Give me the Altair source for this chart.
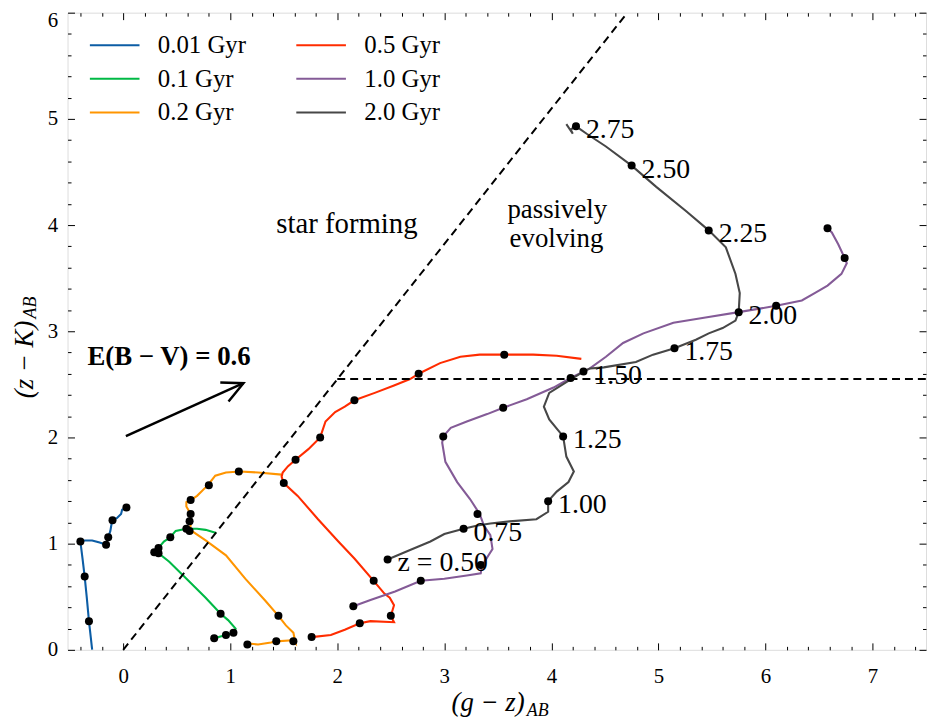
import altair as alt
import pandas as pd

# ---------------- data ----------------
ages = ["0.01 Gyr", "0.1 Gyr", "0.2 Gyr", "0.5 Gyr", "1.0 Gyr", "2.0 Gyr"]
age_colors = ["#0C5DA5", "#00B945", "#FF9500", "#FF2C00", "#845B97", "#474747"]

b_x = [-0.29, -0.31, -0.32, -0.34, -0.36, -0.38, -0.40, -0.36, -0.29, -0.22, -0.16, -0.15, -0.14, -0.12, -0.11, -0.10, -0.06, -0.02, -0.01, 0.03]
b_y = [0.00, 0.18, 0.27, 0.49, 0.69, 0.86, 1.02, 1.03, 1.03, 1.01, 0.99, 1.02, 1.06, 1.12, 1.18, 1.22, 1.24, 1.28, 1.32, 1.34]
bd_x = [-0.32, -0.36, -0.40, -0.16, -0.14, -0.10, 0.03]
bd_y = [0.27, 0.69, 1.02, 0.99, 1.06, 1.22, 1.34]

g_x = [0.85, 0.96, 1.03, 1.05, 0.98, 0.91, 0.77, 0.61, 0.43, 0.33, 0.29, 0.33, 0.38, 0.44, 0.49, 0.59, 0.69, 0.77, 0.87]
g_y = [0.11, 0.14, 0.16, 0.20, 0.28, 0.34, 0.49, 0.65, 0.83, 0.91, 0.92, 0.96, 1.02, 1.06, 1.12, 1.14, 1.14, 1.13, 1.10]
gd_x = [0.85, 0.96, 1.03, 0.91, 0.33, 0.29, 0.33, 0.44, 0.59]
gd_y = [0.11, 0.14, 0.16, 0.34, 0.91, 0.92, 0.96, 1.06, 1.14]

o_x = [1.17, 1.26, 1.38, 1.43, 1.58, 1.61, 1.59, 1.52, 1.45, 1.33, 1.14, 0.96, 0.77, 0.64, 0.62, 0.63, 0.62, 0.63, 0.59, 0.59, 0.63, 0.69, 0.77, 0.79, 0.86, 0.96, 1.09, 1.26, 1.48]
o_y = [0.06, 0.05, 0.07, 0.08, 0.09, 0.06, 0.16, 0.23, 0.32, 0.46, 0.67, 0.89, 1.03, 1.12, 1.14, 1.17, 1.21, 1.28, 1.35, 1.39, 1.41, 1.45, 1.53, 1.55, 1.64, 1.67, 1.68, 1.67, 1.65]
od_x = [1.16, 1.43, 1.59, 1.45, 0.62, 0.62, 0.63, 0.63, 0.80, 1.08]
od_y = [0.05, 0.08, 0.08, 0.32, 1.12, 1.21, 1.28, 1.41, 1.55, 1.68]

r_x = [1.76, 1.94, 2.07, 2.21, 2.31, 2.53, 2.50, 2.53, 2.49, 2.44, 2.34, 2.16, 2.01, 1.82, 1.63, 1.50, 1.48, 1.49, 1.54, 1.61, 1.73, 1.84, 1.89, 1.98, 2.07, 2.16, 2.35, 2.53, 2.68, 2.76, 2.96, 3.15, 3.33, 3.56, 3.83, 4.05, 4.28]
r_y = [0.12, 0.14, 0.19, 0.25, 0.27, 0.26, 0.32, 0.42, 0.49, 0.53, 0.65, 0.86, 1.02, 1.23, 1.45, 1.57, 1.63, 1.67, 1.73, 1.79, 1.89, 2.00, 2.15, 2.24, 2.29, 2.35, 2.42, 2.49, 2.55, 2.60, 2.70, 2.76, 2.78, 2.78, 2.78, 2.77, 2.74]
rd_x = [1.76, 2.21, 2.50, 2.34, 1.50, 1.61, 1.84, 2.16, 2.76, 3.56]
rd_y = [0.12, 0.25, 0.32, 0.65, 1.57, 1.79, 2.00, 2.35, 2.60, 2.78]

p_x = [2.15, 2.31, 2.54, 2.78, 3.00, 3.21, 3.34, 3.35, 3.45, 3.43, 3.37, 3.33, 3.24, 3.12, 3.01, 2.98, 2.99, 3.06, 3.21, 3.40, 3.55, 3.77, 4.02, 4.18, 4.36, 4.51, 4.67, 4.86, 5.14, 5.44, 5.75, 6.10, 6.34, 6.46, 6.58, 6.71, 6.76, 6.74, 6.68, 6.62, 6.58, 6.55]
p_y = [0.41, 0.47, 0.55, 0.65, 0.67, 0.70, 0.72, 0.79, 0.95, 1.08, 1.17, 1.28, 1.42, 1.58, 1.77, 1.95, 2.01, 2.09, 2.15, 2.22, 2.28, 2.36, 2.47, 2.56, 2.65, 2.76, 2.89, 2.98, 3.08, 3.13, 3.18, 3.24, 3.29, 3.36, 3.43, 3.54, 3.64, 3.69, 3.82, 3.93, 3.97, 3.99]
pd_x = [2.15, 2.78, 3.34, 3.31, 2.99, 3.55, 4.18, 6.10, 6.74, 6.58]
pd_y = [0.41, 0.65, 0.80, 1.28, 2.01, 2.28, 2.56, 3.24, 3.69, 3.97]

k_x = [2.47, 2.68, 2.87, 3.00, 3.18, 3.31, 3.43, 3.61, 3.86, 3.97, 3.97, 4.05, 4.16, 4.21, 4.14, 4.11, 3.98, 3.93, 3.98, 4.17, 4.30, 4.36, 4.49, 4.79, 4.95, 5.15, 5.35, 5.47, 5.60, 5.72, 5.75, 5.76, 5.72, 5.63, 5.47, 5.26, 4.98, 4.75, 4.51, 4.33, 4.23, 4.18, 4.20, 4.14]
k_y = [0.85, 0.94, 1.02, 1.09, 1.14, 1.17, 1.19, 1.21, 1.23, 1.30, 1.40, 1.49, 1.58, 1.68, 1.82, 2.01, 2.17, 2.29, 2.42, 2.54, 2.62, 2.65, 2.66, 2.71, 2.78, 2.84, 2.92, 2.98, 3.03, 3.10, 3.18, 3.36, 3.54, 3.79, 3.95, 4.13, 4.36, 4.56, 4.74, 4.86, 4.93, 4.90, 4.86, 4.95]
kd_x = [2.47, 3.18, 3.97, 4.11, 4.30, 5.15, 5.75, 5.47, 4.75, 4.23]
kd_y = [0.85, 1.14, 1.40, 2.01, 2.62, 2.84, 3.18, 3.95, 4.56, 4.93]
z_labels = ["z = 0.50", "0.75", "1.00", "1.25", "1.50", "1.75", "2.00", "2.25", "2.50", "2.75"]

# selection boundary (dashed) and reddening arrow
cut_diag_x = [0.0, 4.71]
cut_diag_y = [0.0, 6.0]
cut_hor_x = [2.0, 7.5]
cut_hor_y = [2.55, 2.55]
arrow_x = [0.025, 1.123, 0.907, 1.123, 0.984]
arrow_y = [2.013, 2.511, 2.517, 2.511, 2.339]
arrow_seg = [0, 0, 1, 1, 1]

# ---------------- tables ----------------
track_list = [(b_x, b_y), (g_x, g_y), (o_x, o_y), (r_x, r_y), (p_x, p_y), (k_x, k_y)]
dot_list = [(bd_x, bd_y), (gd_x, gd_y), (od_x, od_y), (rd_x, rd_y), (pd_x, pd_y), (kd_x, kd_y)]
rows = []
for age, (xs_, ys_) in zip(ages, track_list):
    for i, (a, b) in enumerate(zip(xs_, ys_)):
        rows.append({"age": age, "i": i, "x": a, "y": b})
tracks = pd.DataFrame(rows)
drows = []
for age, (xs_, ys_) in zip(ages, dot_list):
    for a, b in zip(xs_, ys_):
        drows.append({"age": age, "x": a, "y": b})
dots = pd.DataFrame(drows)
zlab = pd.DataFrame({"x": kd_x, "y": kd_y, "t": z_labels})
cuts = pd.DataFrame({"seg": [0, 0, 1, 1], "i": [0, 1, 0, 1],
                     "x": cut_diag_x + cut_hor_x, "y": cut_diag_y + cut_hor_y})
arrow = pd.DataFrame({"seg": arrow_seg, "i": list(range(len(arrow_x))), "x": arrow_x, "y": arrow_y})

# ---------------- styling ----------------
FONT = "Liberation Serif"
W, H = 865, 642
XS = alt.Scale(domain=[-0.52, 7.5], nice=False, zero=False)
YS = alt.Scale(domain=[0, 6], nice=False, zero=False)
x_minor = [round(-0.4 + 0.2 * i, 1) for i in range(40)]
y_minor = [round(0.2 * i, 1) for i in range(31)]
tick_size = {"condition": {"test": "abs(datum.value - round(datum.value)) < 0.01", "value": 7}, "value": 3.5}


def tick_axis(orient, offset, values):
    return alt.Axis(orient=orient, offset=offset, values=values, labels=False, domain=False,
                    ticks=True, tickSize=tick_size, tickColor="black", tickWidth=1,
                    grid=False, title=None)


label_x_axis = alt.Axis(orient="bottom", values=list(range(0, 8)), ticks=False, domain=False,
                        grid=False, title=None, labelFont=FONT, labelFontSize=21,
                        labelColor="black", labelPadding=16, format="d")
label_y_axis = alt.Axis(orient="left", values=list(range(0, 7)), ticks=False, domain=False,
                        grid=False, title=None, labelFont=FONT, labelFontSize=21,
                        labelColor="black", labelPadding=10, format="d",
                        labelOffset={"condition": {"test": "datum.value == 6", "value": 8}, "value": 0})

lines = alt.Chart(tracks).mark_line(strokeWidth=2.1, clip=True).encode(
    x=alt.X("x:Q", scale=XS, axis=label_x_axis),
    y=alt.Y("y:Q", scale=YS, axis=label_y_axis),
    color=alt.Color("age:N", scale=alt.Scale(domain=ages, range=age_colors),
                    legend=alt.Legend(orient="none", legendX=35, legendY=20, columns=2, title=None,
                                      symbolType="M-2.5,0H2.5", symbolSize=400, symbolStrokeWidth=2,
                                      labelFont=FONT, labelFontSize=25, labelColor="black",
                                      labelOffset=31, columnPadding=46, rowPadding=8, padding=0)),
    order="i:Q",
)

points = alt.Chart(dots).mark_circle(size=65, color="black", opacity=1).encode(
    x=alt.X("x:Q", scale=XS, axis=tick_axis("bottom", -H, x_minor)),
    y=alt.Y("y:Q", scale=YS, axis=tick_axis("left", -W, y_minor)),
)

zlabels = alt.Chart(zlab).mark_text(align="left", baseline="middle", dx=10, dy=4,
                                     font=FONT, fontSize=28, color="black").encode(
    x=alt.X("x:Q", scale=XS, axis=tick_axis("top", -H, x_minor)),
    y=alt.Y("y:Q", scale=YS, axis=tick_axis("right", -W, y_minor)),
    text="t:N",
)

cut_lines = alt.Chart(cuts).mark_line(color="black", strokeWidth=2, strokeDash=[8, 5]).encode(
    x=alt.X("x:Q", scale=XS, axis=None),
    y=alt.Y("y:Q", scale=YS, axis=None),
    detail="seg:N",
    order="i:Q",
)

arrow_lines = alt.Chart(arrow).mark_line(color="black", strokeWidth=2.5).encode(
    x=alt.X("x:Q", scale=XS, axis=None),
    y=alt.Y("y:Q", scale=YS, axis=None),
    detail="seg:N",
    order="i:Q",
)


def text_layer(df, **kw):
    return alt.Chart(df).mark_text(font=FONT, color="black", **kw).encode(
        x=alt.X("x:Q", scale=XS, axis=None),
        y=alt.Y("y:Q", scale=YS, axis=None),
        text="t:N",
    )


ann_center = text_layer(pd.DataFrame({"x": [2.09], "y": [4.01], "t": ["star forming"]}),
                        align="center", baseline="middle", fontSize=29)
ann_left = text_layer(pd.DataFrame({"x": [3.59, 3.61], "y": [4.14, 3.87], "t": ["passively", "evolving"]}),
                      align="left", baseline="middle", fontSize=27)
ebv = text_layer(pd.DataFrame({"x": [-0.334], "y": [2.757], "t": ["E(B − V) = 0.6"]}),
                 align="left", baseline="middle", fontSize=27, fontWeight="bold")
xtitle = text_layer(pd.DataFrame({"x": [3.751], "y": [-0.50], "t": ["(g − z)"]}),
                    align="right", baseline="middle", fontSize=27, fontStyle="italic")
xsub = text_layer(pd.DataFrame({"x": [3.77], "y": [-0.58], "t": ["AB"]}),
                  align="left", baseline="middle", fontSize=18, fontStyle="italic")
ytitle = text_layer(pd.DataFrame({"x": [-0.919], "y": [3.10], "t": ["(z − K)"]}),
                    align="right", baseline="middle", fontSize=27, fontStyle="italic", angle=270)
ysub = text_layer(pd.DataFrame({"x": [-0.864], "y": [3.12], "t": ["AB"]}),
                  align="left", baseline="middle", fontSize=18, fontStyle="italic", angle=270)

chart = alt.layer(
    lines, cut_lines, arrow_lines, points, zlabels,
    ann_center, ann_left, ebv, xtitle, xsub, ytitle, ysub,
).resolve_axis(x="independent", y="independent").properties(
    width=W, height=H,
    padding={"left": 60, "top": 2, "right": 1, "bottom": 72},
    autosize=alt.AutoSizeParams(type="none"),
).configure_view(stroke="black", strokeWidth=1.2).configure(background="white")

chart.save("out.html", embed_options={"renderer": "svg", "actions": False})
